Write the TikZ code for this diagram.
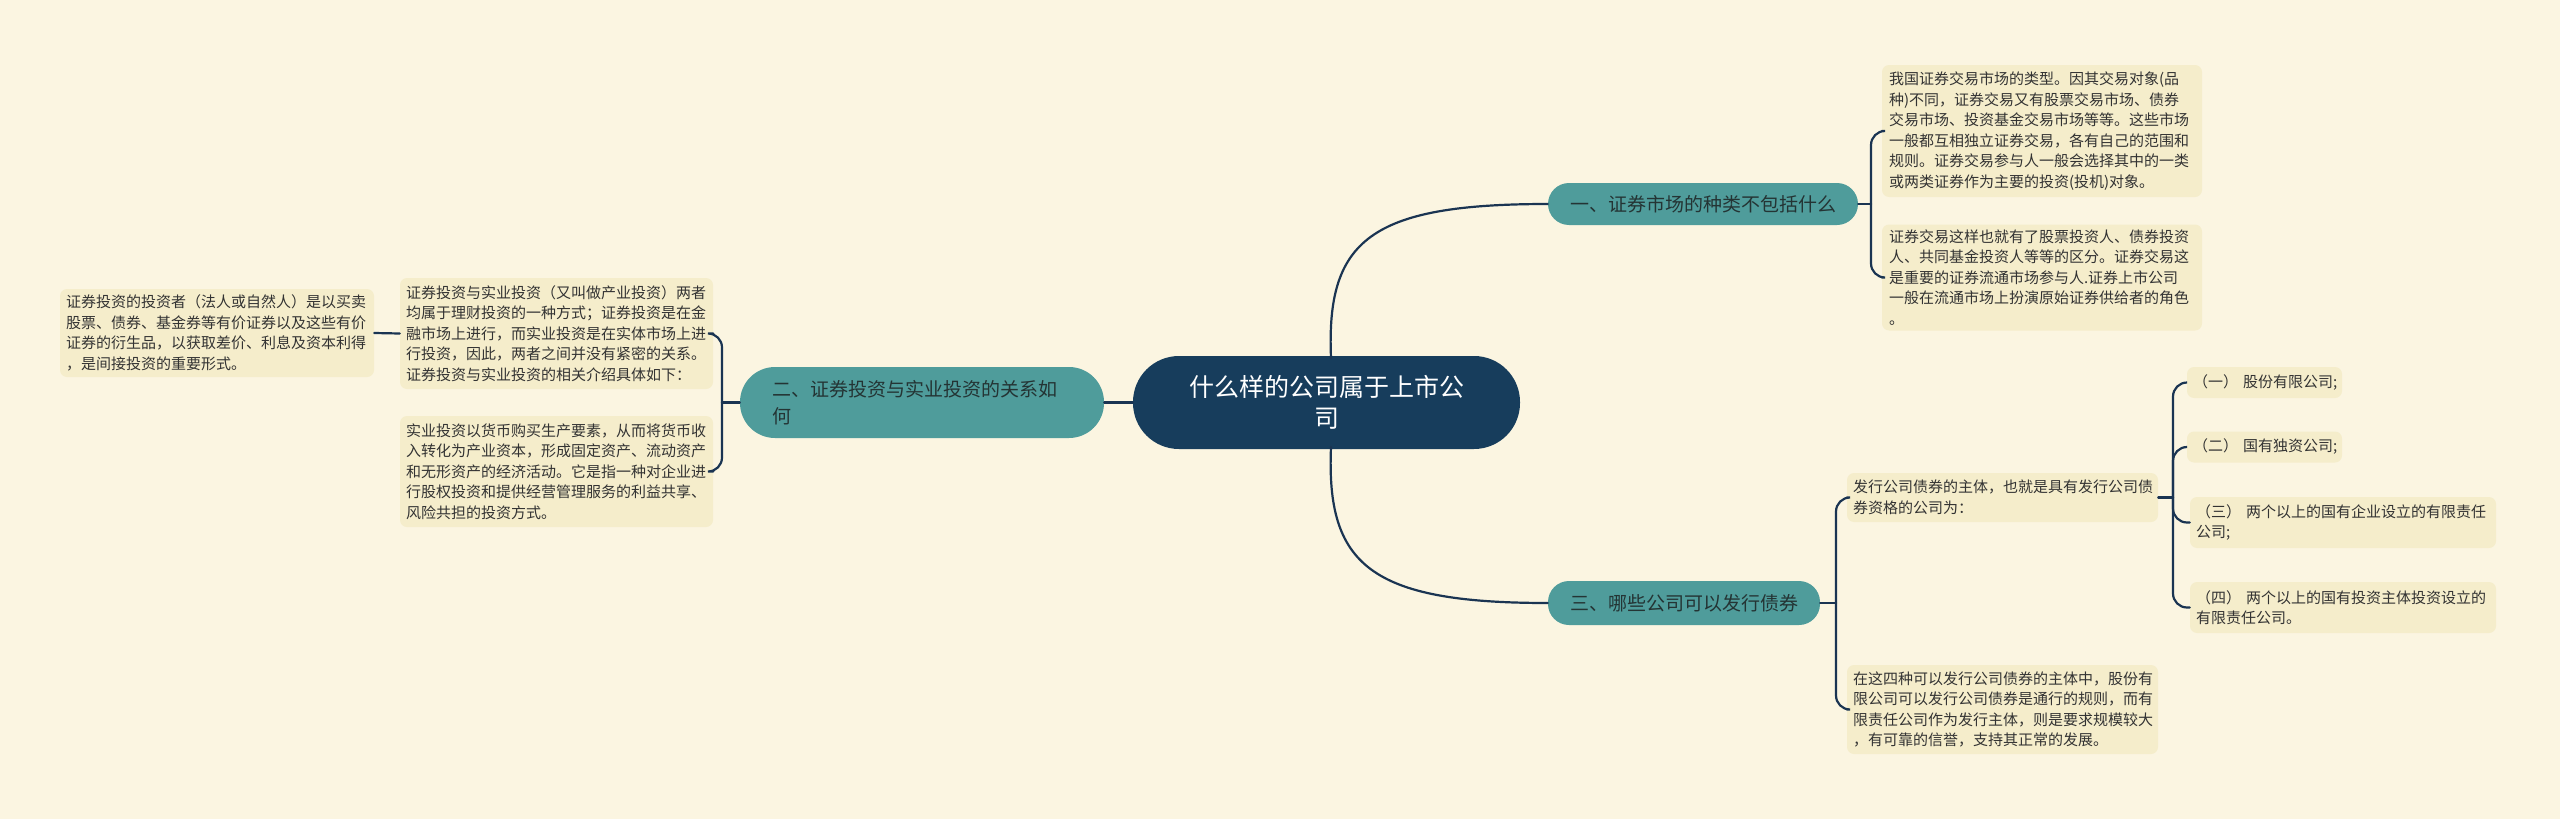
\documentclass[tikz,border=0pt]{standalone}
\usepackage{fontspec}
\setmainfont{Noto Sans CJK SC}
\definecolor{bgc}{HTML}{FBF5E1}
\definecolor{leafc}{HTML}{F5EDCB}
\definecolor{tealc}{HTML}{4F9C9B}
\definecolor{navyc}{HTML}{173D5C}
\definecolor{linec}{HTML}{1A3452}
\definecolor{textc}{HTML}{333333}
\definecolor{btextc}{HTML}{243434}
\begin{document}
\begin{tikzpicture}[x=1pt,y=-1pt,
  leaf/.style={fill=leafc, rounded corners=7pt, align=left, inner sep=0pt,
    text=textc, font=\fontsize{15}{20.5}\selectfont},
  branch/.style={fill=tealc, rounded corners=21pt, align=left, inner sep=0pt,
    text=btextc, font=\fontsize{19}{27}\selectfont},
  rootbox/.style={fill=navyc, rounded corners=46pt, align=center, inner sep=0pt,
    text=white, font=\fontsize{25}{31}\selectfont},
  conn/.style={draw=linec, line width=2.2pt, line cap=round},
  brk/.style={conn, rounded corners=14pt}]
\useasboundingbox (0,0) rectangle (2560,819);
\fill[bgc] (0,0) rectangle (2560,819);

% root
\node[rootbox, minimum width=387, minimum height=93] (root) at (1326.5,402.5)
  {什么样的公司属于上市公\\司};

% branches
\node[branch, minimum width=310, minimum height=42] (b1) at (1703,204)
  {一、证券市场的种类不包括什么};
\node[branch, minimum width=272, minimum height=44] (b3) at (1684,603)
  {三、哪些公司可以发行债券};
\node[branch, rounded corners=35pt, minimum width=364, minimum height=71, text width=300pt] (b2) at (922,402.5)
  {二、证券投资与实业投资的关系如\\何};

% right upper leaves
\node[leaf, minimum width=320, minimum height=132, text width=306pt] (l1a) at (2042,131)
  {我国证券交易市场的类型。因其交易对象(品\\种)不同，证券交易又有股票交易市场、债券\\交易市场、投资基金交易市场等等。这些市场\\一般都互相独立证券交易，各有自己的范围和\\规则。证券交易参与人一般会选择其中的一类\\或两类证券作为主要的投资(投机)对象。};
\node[leaf, minimum width=320, minimum height=106, text width=306pt] (l1b) at (2042,277.5)
  {证券交易这样也就有了股票投资人、债券投资\\人、共同基金投资人等等的区分。证券交易这\\是重要的证券流通市场参与人.证券上市公司\\一般在流通市场上扮演原始证券供给者的角色\\。};

% right lower leaves
\node[leaf, minimum width=311, minimum height=49, text width=299pt] (l3a) at (2002.5,497.5)
  {发行公司债券的主体，也就是具有发行公司债\\券资格的公司为：};
\node[leaf, minimum width=311, minimum height=89, text width=299pt] (l3b) at (2002.5,709.5)
  {在这四种可以发行公司债券的主体中，股份有\\限公司可以发行公司债券是通行的规则，而有\\限责任公司作为发行主体，则是要求规模较大\\，有可靠的信誉，支持其正常的发展。};

\node[leaf, minimum width=155, minimum height=31, text width=143pt] (c1) at (2264.5,382.5)
  {（一）~股份有限公司;};
\node[leaf, minimum width=155, minimum height=31, text width=143pt] (c2) at (2264.5,447)
  {（二）~国有独资公司;};
\node[leaf, minimum width=306, minimum height=51, text width=294pt] (c3) at (2343,522.5)
  {（三）~两个以上的国有企业设立的有限责任\\公司;};
\node[leaf, minimum width=306, minimum height=51, text width=294pt] (c4) at (2343,607.5)
  {（四）~两个以上的国有投资主体投资设立的\\有限责任公司。};

% left leaves
\node[leaf, minimum width=313, minimum height=111, text width=301pt] (l2a) at (556.5,333.5)
  {证券投资与实业投资（又叫做产业投资）两者\\均属于理财投资的一种方式；证券投资是在金\\融市场上进行，而实业投资是在实体市场上进\\行投资，因此，两者之间并没有紧密的关系。\\证券投资与实业投资的相关介绍具体如下：};
\node[leaf, minimum width=313, minimum height=111, text width=301pt] (l2b) at (556.5,471.5)
  {实业投资以货币购买生产要素，从而将货币收\\入转化为产业资本，形成固定资产、流动资产\\和无形资产的经济活动。它是指一种对企业进\\行股权投资和提供经营管理服务的利益共享、\\风险共担的投资方式。};
\node[leaf, minimum width=314, minimum height=88, text width=302pt] (l2aa) at (217,333)
  {证券投资的投资者（法人或自然人）是以买卖\\股票、债券、基金券等有价证券以及这些有价\\证券的衍生品，以获取差价、利息及资本利得\\，是间接投资的重要形式。};

% junction coordinates
\coordinate (j1) at (1871,204);
\coordinate (j3) at (1836,603);
\coordinate (j3a) at (2173,497.5);
\coordinate (j2) at (722,402.5);
\coordinate (rt) at (1331,358);
\coordinate (rb) at (1331,447);

% root connectors
\draw[conn] (rt) .. controls (1326,240) and (1370,204) .. (b1.west);
\draw[conn] (rb) .. controls (1326,565) and (1370,603) .. (b3.west);
\draw[conn] (root.west) -- (b2.east);

% branch 1
\draw[conn] (b1.east) -- (j1);
\draw[brk] (j1) |- (l1a.west);
\draw[brk] (j1) |- (l1b.west);

% branch 3
\draw[conn] (b3.east) -- (j3);
\draw[brk] (j3) |- (l3a.west);
\draw[brk] (j3) |- (l3b.west);

% l3a children
\draw[conn] (l3a.east) -- (j3a);
\draw[brk] (j3a) |- (c1.west);
\draw[brk] (j3a) |- (c2.west);
\draw[brk] (j3a) |- (c3.west);
\draw[brk] (j3a) |- (c4.west);

% branch 2
\draw[conn] (b2.west) -- (j2);
\draw[brk] (j2) |- (l2a.east);
\draw[brk] (j2) |- (l2b.east);
\draw[conn] (l2a.west) -- (l2aa.east);
\end{tikzpicture}
\end{document}
